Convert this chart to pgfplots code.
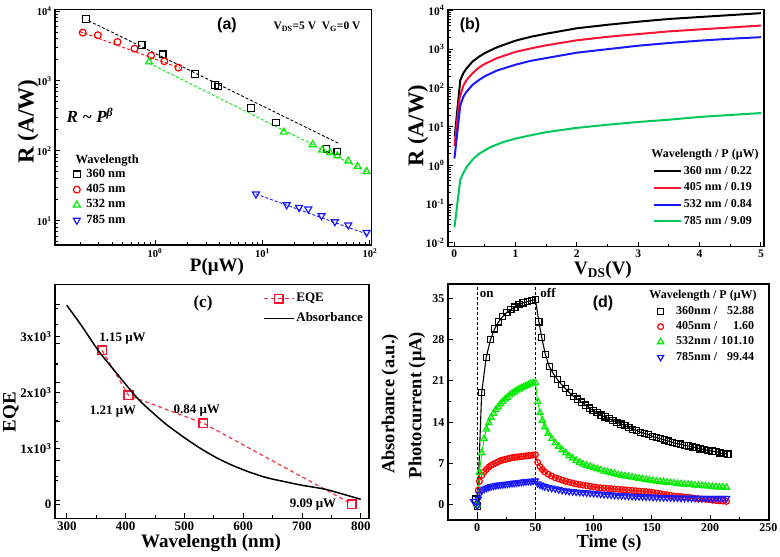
\documentclass[border=0pt]{standalone}
\usepackage{fontspec}
\setmainfont{Liberation Serif}
\newfontfamily\sansf{Liberation Sans}
\usepackage{pgfplots}
\pgfplotsset{compat=1.18}
\definecolor{lgreen}{RGB}{0,235,0}
\definecolor{bgreen}{RGB}{0,200,90}
\definecolor{bred}{RGB}{245,20,50}
\definecolor{pred}{RGB}{245,50,70}
\definecolor{bblue}{RGB}{25,25,255}
\newcommand\tp[1]{10\textsuperscript{#1}}
\newcommand\fs[1]{\fontsize{#1}{#1}\selectfont\bfseries}
\pgfplotsset{
  base/.style={scale only axis, anchor=south west,
    axis line style={line width=1.5pt},
    tick style={black, line width=0.9pt},
    tick align=inside, major tick length=5pt, minor tick length=3pt,
    xtick pos=left, ytick pos=left,
    /pgf/number format/assume math mode=true,
    legend cell align=left},
}
\begin{document}
\bfseries
\begin{tikzpicture}[x=1pt,y=1pt]
\path[use as bounding box] (0,0) rectangle (780,557);

% ---------------- (a)
\begin{axis}[base, at={(55pt,312pt)}, width=316.7pt, height=235.7pt,
  xmode=log, ymode=log, xmin=0.117, xmax=104, ymin=4.5, ymax=10570,
  xtick={1,10,100}, xticklabels={\tp{0},\tp{1},\tp{2}},
  minor xtick={0.2,0.3,0.4,0.5,0.6,0.7,0.8,0.9,2,3,4,5,6,7,8,9,20,30,40,50,60,70,80,90},
  ytick={10,100,1000,10000}, yticklabels={\tp{1},\tp{2},\tp{3},\tp{4}},
  minor ytick={5,6,7,8,9,20,30,40,50,60,70,80,90,200,300,400,500,600,700,800,900,2000,3000,4000,5000,6000,7000,8000,9000},
  tick label style={font=\fs{10.5}},
  legend style={at={(axis description cs:0.058,0.325)}, anchor=north west, draw=none, fill=none,
    inner sep=0pt, outer sep=0pt, row sep=3.3pt, column sep=6pt, font=\fs{12.5},
    nodes={inner sep=0pt, text height=9pt, text depth=3pt}},
  legend image code/.code={\draw[#1] plot coordinates {(3.5pt,0pt)};},
]
\addplot[black, dash pattern=on 3pt off 2pt, line width=0.9pt, forget plot] coordinates {(0.24,7260) (50.7,129)};
\addplot[red, dash pattern=on 3pt off 2pt, line width=0.9pt, forget plot] coordinates {(0.2,5060) (1.71,1520)};
\addplot[lgreen, dash pattern=on 3pt off 2pt, line width=0.9pt, forget plot] coordinates {(0.88,1790) (93.2,50.6)};
\addplot[bblue, dash pattern=on 3pt off 2pt, line width=0.9pt, forget plot] coordinates {(8.7,24.1) (93.2,6.46)};
\addplot[only marks, black, mark=square, mark size=3.3pt, mark options={line width=1.2pt}] coordinates {
(0.228,7690) (0.75,3270) (1.18,2400) (2.35,1260) (3.61,877) (3.88,830) (7.8,407) (13.4,254) (39.5,107) (49.7,97.7)};
\addlegendentry{360 nm}
\addplot[only marks, red, mark=o, mark size=3.4pt, mark options={line width=1.2pt}] coordinates {
(0.212,4900) (0.293,4500) (0.447,3610) (0.643,2890) (0.918,2300) (1.22,1910) (1.65,1550)};
\addlegendentry{405 nm}
\addplot[only marks, lgreen, mark=triangle, mark size=4pt, mark options={line width=1.2pt}] coordinates {
(0.88,1870) (15.8,185) (29.3,122) (36.0,103) (42.5,94.6) (49.7,84.9) (62.9,71.3) (76.9,59.7) (93.2,50.6)};
\addlegendentry{532 nm}
\addplot[only marks, bblue, mark=triangle, mark size=4pt, mark options={line width=1.2pt, rotate=180}] coordinates {
(8.7,24.1) (16.8,16.9) (21.9,15.5) (26.7,14.7) (35.5,11.8) (47.2,9.7) (62.9,8.7) (93.2,6.8)};
\addlegendentry{785 nm}
\end{axis}

% ---------------- (b)
\begin{axis}[base, at={(448pt,310.3pt)}, width=316pt, height=237.4pt,
  ymode=log, xmin=-0.1, xmax=5.05, ymin=0.00794, ymax=10715,
  xtick={0,1,2,3,4,5}, minor xtick={0.5,1.5,2.5,3.5,4.5},
  ytick={0.01,0.1,1,10,100,1000,10000},
  yticklabels={\tp{-2},\tp{-1},\tp{0},\tp{1},\tp{2},\tp{3},\tp{4}},
  minor ytick={0.02,0.03,0.04,0.05,0.06,0.07,0.08,0.09,0.2,0.3,0.4,0.5,0.6,0.7,0.8,0.9,2,3,4,5,6,7,8,9,20,30,40,50,60,70,80,90,200,300,400,500,600,700,800,900,2000,3000,4000,5000,6000,7000,8000,9000},
  tick label style={font=\fs{11.5}},
  legend style={at={(axis description cs:0.6487,0.3456)}, anchor=north west, draw=none, fill=none,
    inner sep=0pt, outer sep=0pt, row sep=3.7pt, column sep=2pt, font=\fs{12},
    nodes={inner sep=0pt, text height=9.5pt, text depth=3.5pt}},
  legend image code/.code={\draw[#1] (0pt,0pt) -- (27pt,0pt);},
]
\addplot[black, line width=2pt] coordinates {
(0.01,5.6) (0.1,158) (0.15,240) (0.2,316) (0.3,479) (0.4,631) (0.5,794) (0.7,1122) (1,1660) (1.25,2089) (1.5,2512) (2,3467) (2.5,4266) (3,5129) (3.5,6026) (4,6761) (4.5,7586) (5,8511)};
\addlegendentry{360 nm / 0.22}
\addplot[bred, line width=2pt] coordinates {
(0.005,3.2) (0.09,55) (0.15,115) (0.2,158) (0.3,240) (0.4,331) (0.5,417) (0.7,589) (1,851) (1.25,1047) (1.5,1259) (2,1698) (2.5,2089) (3,2455) (3.5,2884) (4,3236) (4.5,3631) (5,4074)};
\addlegendentry{405 nm / 0.19}
\addplot[bblue, line width=2pt] coordinates {
(0.005,1.5) (0.1,35) (0.15,59) (0.2,79) (0.3,120) (0.4,158) (0.5,200) (0.7,282) (1,398) (1.25,501) (1.5,589) (2,813) (2.5,1000) (3,1230) (3.5,1445) (4,1660) (4.5,1862) (5,2042)};
\addlegendentry{532 nm / 0.84}
\addplot[bgreen, line width=2pt] coordinates {
(0.005,0.025) (0.1,0.43) (0.15,0.63) (0.2,0.89) (0.3,1.41) (0.4,1.95) (0.5,2.45) (0.6,3.0) (0.8,4.0) (1,4.9) (1.25,6.0) (1.5,7.2) (2,9.3) (2.5,11.2) (3,13.2) (3.5,15.1) (4,17.8) (4.5,20) (5,22.4)};
\addlegendentry{785 nm / 9.09}
\end{axis}

% ---------------- (c) left axis
\begin{axis}[base, at={(55pt,38.7pt)}, width=314pt, height=233.6pt,
  xmin=280, xmax=814, ymin=-250, ymax=3920,
  xtick={300,400,500,600,700,800}, minor x tick num=1,
  ytick={0,1000,2000,3000},
  yticklabels={0,1x10\textsuperscript{3},2x10\textsuperscript{3},3x10\textsuperscript{3}},
  minor ytick={500,1500,2500,3500},
  tick label style={font=\fs{13}},
  legend style={at={(axis description cs:0.662,0.970)}, anchor=north west, draw=none, fill=none,
    inner sep=0pt, outer sep=0pt, row sep=6pt, column sep=2pt, font=\fs{13},
    nodes={inner sep=0pt, text height=10pt, text depth=4pt}},
  legend image code/.code={\draw[mark repeat=2,mark phase=2,#1] plot coordinates {(0pt,0pt) (15pt,0pt) (30pt,0pt)};},
]
\addplot[pred, dash pattern=on 4pt off 3pt, line width=1.2pt, mark=square, mark size=4.3pt, mark options={solid, line width=1.6pt, bred}] coordinates {
(360,2749) (405,1944) (532,1449) (785,5)};
\addlegendentry{EQE}
\addlegendimage{black, line width=1.5pt}
\addlegendentry{Absorbance}
\end{axis}
% ---------------- (c) right axis (absorbance, a.u.)
\begin{axis}[base, at={(55pt,38.7pt)}, width=314pt, height=233.6pt,
  xmin=280, xmax=814, ymin=-0.0469, ymax=0.5514,
  axis x line=none, axis y line*=right,
  ytick={0,0.1,0.2,0.3,0.4,0.5}, minor y tick num=1, yticklabels={},
]
\addplot[black, line width=1.5pt, smooth] coordinates {
(300,0.4989) (325,0.4466) (354,0.3821) (380,0.3333) (405,0.2874) (425,0.2529) (450,0.2185) (470,0.1927) (500,0.1597) (527,0.1324) (555,0.1080) (583,0.0879) (612,0.0707) (640,0.0571) (670,0.0471) (700,0.0377) (739,0.0277) (770,0.0148) (800,0.0017)};
\end{axis}

% ---------------- (d)
\begin{axis}[base, at={(448pt,37pt)}, width=321pt, height=236pt,
  xmin=-25, xmax=250.5, ymin=-2.55, ymax=37.4,
  xtick={0,50,100,150,200,250}, minor x tick num=1,
  ytick={0,7,14,21,28,35}, minor y tick num=1,
  tick label style={font=\fs{12}},
  legend style={at={(axis description cs:0.6526,0.9095)}, anchor=north west, draw=none, fill=none,
    inner sep=0pt, outer sep=0pt, row sep=3.3pt, column sep=12.5pt, font=\fs{12},
    nodes={inner sep=0pt, text height=9pt, text depth=3pt}},
  legend image code/.code={\draw[#1] plot coordinates {(3.5pt,0pt)};},
]
\addplot[black, dash pattern=on 3pt off 2pt, line width=0.8pt, forget plot] coordinates {(0,-2.55) (0,37.4)};
\addplot[black, dash pattern=on 3pt off 2pt, line width=0.8pt, forget plot] coordinates {(50,-2.55) (50,37.4)};
\addplot[black, line width=1.1pt, mark=square, mark size=3.1pt, mark options={line width=1.2pt}] coordinates {
(-1,1.0) (0.3,-0.2) (3.9,19.0) (7.8,25.0) (11.5,28.0) (15,29.8) (18.5,31.0) (22,31.9) (25.5,32.6) (29,33.1) (32.5,33.5) (36,33.9) (39.5,34.2) (43,34.4) (46.5,34.6) (50,34.8)
(53,31.0) (55.5,28.3) (58.5,25.5) (62,23.4) (65.5,22.2) (69,21.2) (72.4,20.4) (75.8,19.7) (79.2,19.0) (82.6,18.4) (86,17.9) (89.4,17.4) (92.8,16.9) (96.2,16.4) (99.6,16.0) (103,15.6) (106.4,15.2) (109.8,14.9) (113.2,14.6) (116.6,14.3) (120,14.0) (123.4,13.7) (126.8,13.4) (130.2,13.1) (133.6,12.8) (137,12.6) (140.4,12.3) (143.8,12.1) (147.2,11.9) (150.6,11.6) (154,11.4) (157.4,11.2) (160.8,11.0) (164.2,10.8) (167.6,10.6) (171,10.4) (174.4,10.3) (177.8,10.1) (181.2,10.0) (184.6,9.8) (188,9.7) (191.4,9.5) (194.8,9.4) (198.2,9.2) (201.6,9.1) (205,9.0) (208.4,8.8) (211.8,8.7) (215.2,8.6)};
\addlegendentry{\makebox[42pt][l]{360nm /}\makebox[36pt][r]{52.88}}
\addplot[red, line width=0.9pt, mark=o, mark size=2.9pt, mark options={line width=1.2pt}] coordinates {
(0,0) (1,2.5) (2,4.0) (4,5.0) (6,5.6) (8,6.0) (10,6.4) (12,6.7) (14,6.9) (16,7.1) (18,7.3) (20,7.5) (22,7.6) (24,7.7) (26,7.8) (28,7.9) (30,8.0) (32,8.05) (34,8.1) (36,8.15) (38,8.2) (40,8.25) (42,8.3) (44,8.35) (46,8.4) (48,8.45) (50,8.5)
(52,7.2) (54,6.5) (56,6.0) (58,5.6) (61,5.2) (64,4.9) (67,4.6) (70,4.4) (73,4.2) (76,4.0) (79,3.85) (82,3.7) (85,3.55) (88,3.45) (91,3.35) (94,3.25) (97,3.15) (100,3.05) (103,2.95) (106,2.9) (109,2.85) (112,2.8) (115,2.75) (118,2.7) (121,2.65) (124,2.6) (127,2.55) (130,2.5) (133,2.45) (136,2.4) (139,2.35) (142,2.3) (145,2.25) (148,2.2) (151,2.1) (154,2.0) (157,1.9) (160,1.8) (163,1.7) (166,1.6) (169,1.5) (172,1.45) (175,1.4) (178,1.35) (181,1.3) (184,1.2) (187,1.1) (190,1.05) (193,1.0) (196,0.95) (199,0.9) (202,0.8) (205,0.75) (208,0.7) (211,0.65) (214,0.6)};
\addlegendentry{\makebox[42pt][l]{405nm /}\makebox[36pt][r]{1.60}}
\addplot[lgreen, line width=0.9pt, mark=triangle, mark size=3.6pt, mark options={line width=1.2pt}] coordinates {
(0,0) (2,5.5) (4,8.8) (6,11.2) (8,12.8) (10,13.9) (12,14.8) (14,15.5) (16,16.1) (18,16.6) (20,17.1) (22,17.5) (24,17.9) (26,18.2) (28,18.6) (30,18.9) (32,19.1) (34,19.4) (36,19.6) (38,19.8) (40,20.0) (42,20.2) (44,20.3) (46,20.5) (48,20.6) (50,20.7)
(52,17.5) (54,15.6) (56,14.3) (58,13.2) (61,12.1) (64,11.2) (67,10.5) (70,9.9) (73,9.3) (76,8.8) (79,8.3) (82,7.9) (85,7.5) (88,7.2) (91,6.9) (94,6.7) (97,6.5) (100,6.3) (103,6.1) (106,5.9) (109,5.7) (112,5.6) (115,5.4) (118,5.3) (121,5.1) (124,5.0) (127,4.9) (130,4.8) (133,4.7) (136,4.6) (139,4.5) (142,4.4) (145,4.3) (148,4.2) (151,4.1) (154,4.0) (157,3.95) (160,3.9) (163,3.8) (166,3.75) (169,3.7) (172,3.6) (175,3.55) (178,3.5) (181,3.45) (184,3.4) (187,3.35) (190,3.3) (193,3.25) (196,3.2) (199,3.15) (202,3.1) (205,3.05) (208,3.0) (211,3.0) (214,2.95)};
\addlegendentry{\makebox[42pt][l]{532nm /}\makebox[36pt][r]{101.10}}
\addplot[bblue, line width=0.9pt, mark=triangle, mark size=3.6pt, mark options={line width=1.2pt, rotate=180}] coordinates {
(-3,0.6) (0,-0.2) (1,1.0) (2,1.8) (4,2.4) (6,2.7) (8,2.85) (10,3.0) (12,3.1) (14,3.2) (16,3.3) (18,3.35) (20,3.4) (22,3.45) (24,3.5) (26,3.55) (28,3.6) (30,3.65) (32,3.7) (34,3.75) (36,3.8) (38,3.85) (40,3.9) (42,3.95) (44,4.0) (46,4.0) (48,4.05) (50,4.1)
(52,3.6) (54,3.4) (56,3.25) (58,3.1) (61,2.95) (64,2.85) (67,2.75) (70,2.6) (73,2.5) (76,2.4) (79,2.3) (82,2.25) (85,2.2) (88,2.15) (91,2.1) (94,2.05) (97,2.0) (100,1.95) (103,1.9) (106,1.85) (109,1.8) (112,1.75) (115,1.7) (118,1.65) (121,1.6) (124,1.58) (127,1.55) (130,1.5) (133,1.47) (136,1.45) (139,1.42) (142,1.4) (145,1.37) (148,1.35) (151,1.32) (154,1.3) (157,1.28) (160,1.26) (163,1.24) (166,1.22) (169,1.2) (172,1.19) (175,1.18) (178,1.17) (181,1.16) (184,1.15) (187,1.15) (190,1.14) (193,1.14) (196,1.13) (199,1.13) (202,1.13) (205,1.12) (208,1.12) (211,1.12) (214,1.12)};
\addlegendentry{\makebox[42pt][l]{785nm /}\makebox[36pt][r]{99.44}}
\end{axis}

% ---------------- texts
\node[font=\sansf\fs{16}] at (227,532) {(a)};
\node[font=\fs{11.5}] at (317,530) {V\textsubscript{DS}=5 V\enspace V\textsubscript{G}=0 V};
\node[font=\fs{17}\itshape] at (90,442) {R \textasciitilde{} P\textsuperscript{β}};
\node[font=\fs{12.5}, anchor=west] at (72,396) {Wavelength};
\node[font=\fs{23}, rotate=90] at (28,435.3) {R (A/W)};
\node[font=\fs{19}] at (217,290) {P(μW)};

\node[font=\sansf\fs{16}] at (470,532) {(b)};
\node[font=\fs{12}] at (705,402) {Wavelength / P (μW)};
\node[font=\fs{22.5}, rotate=90] at (418,431.2) {R (A/W)};
\node[font=\fs{19}] at (603,287) {V\textsubscript{DS}(V)};

\node[font=\fs{17}] at (203,254) {(c)};
\node[font=\fs{13}] at (122.5,218.7) {1.15 μW};
\node[font=\fs{13}] at (113,145.3) {1.21 μW};
\node[font=\fs{13}] at (196.7,146) {0.84 μW};
\node[font=\fs{13}] at (313,52) {9.09 μW};
\node[font=\fs{19}, rotate=90] at (11,145) {EQE};
\node[font=\fs{19}] at (211,14) {Wavelength (nm)};
\node[font=\fs{18.4}, rotate=90] at (390,153) {Absorbance (a.u.)};

\node[font=\sansf\fs{16}] at (603,254) {(d)};
\node[font=\fs{13}] at (486.7,262) {on};
\node[font=\fs{13}] at (548,263.7) {off};
\node[font=\fs{12}] at (703,261) {Wavelength / P (μW)};
\node[font=\fs{18.5}, rotate=90] at (417,152) {Photocurrent (μA)};
\node[font=\fs{18.5}] at (609,14) {Time (s)};
\end{tikzpicture}
\end{document}
